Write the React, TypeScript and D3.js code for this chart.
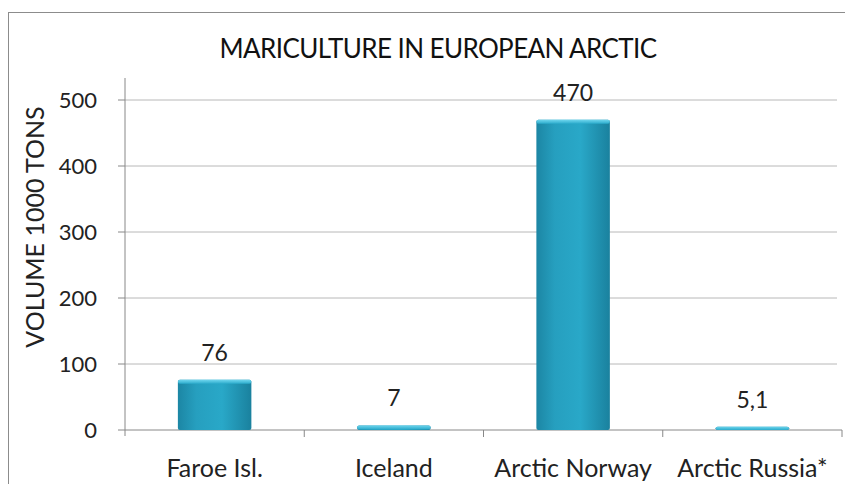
import React from "react";
import * as d3 from "d3";

const categories = ["Faroe Isl.", "Iceland", "Arctic Norway", "Arctic Russia*"];
const values = [76, 7, 470, 5.1];
const valueLabels = ["76", "7", "470", "5,1"];
const yTicks = [0, 100, 200, 300, 400, 500];

const W = 845, H = 484;
const left = 125, right = 842, top = 78, bottom = 430;
const font = "Lato, 'Open Sans', sans-serif";

export default function App() {
  const x = d3.scaleBand<string>().domain(categories).range([left, right]).paddingInner(0.59).paddingOuter(0.295);
  const y = d3.scaleLinear().domain([0, 500]).range([bottom, bottom - 330]);
  const bandStep = x.step();
  return (
    <svg width={W} height={H} style={{ position: "absolute", left: 0, top: 0 }}>
      <defs>
        <linearGradient id="barG" x1="0" x2="1" y1="0" y2="0">
          <stop offset="0" stopColor="#1c86a4" />
          <stop offset="0.25" stopColor="#269fbf" />
          <stop offset="0.6" stopColor="#29a8c8" />
          <stop offset="1" stopColor="#1a819e" />
        </linearGradient>
        <linearGradient id="topG" x1="0" x2="0" y1="0" y2="1">
          <stop offset="0" stopColor="#6fd6ee" />
          <stop offset="1" stopColor="#2aaacb" />
        </linearGradient>
      </defs>
      <rect x={0} y={0} width={W} height={H} fill="#fff" />
      <rect x={8.5} y={12.5} width={W + 20} height={H + 20} fill="#fff" stroke="#8c8c8c" strokeWidth={1} />
      <text x={438} y={58} textAnchor="middle" fontFamily={font} fontSize={26} fill="#111" letterSpacing={-0.6}>
        MARICULTURE IN EUROPEAN ARCTIC
      </text>
      {yTicks.map((t) => (
        <g key={t}>
          {t > 0 && <line x1={left} x2={right - 5} y1={y(t)} y2={y(t)} stroke="#b8b8b8" strokeWidth={1} />}
          <line x1={left - 7} x2={left} y1={y(t)} y2={y(t)} stroke="#888" />
          <text x={97} y={y(t) + 8} textAnchor="end" fontFamily={font} fontSize={22} fill="#222">{t}</text>
        </g>
      ))}
      <line x1={left} x2={left} y1={top} y2={bottom + 6} stroke="#888" />
      <line x1={left} x2={right} y1={bottom} y2={bottom} stroke="#888" />
      {categories.map((c, i) => (
        <line key={"t" + i} x1={left + bandStep * (i + 1)} x2={left + bandStep * (i + 1)} y1={bottom} y2={bottom + 7} stroke="#888" />
      ))}
      <text transform={`translate(44,227) rotate(-90)`} textAnchor="middle" fontFamily={font} fontSize={25} fill="#222">
        VOLUME  1000 TONS
      </text>
      {categories.map((c, i) => {
        const bx = x(c)!;
        const bw = x.bandwidth();
        const by = y(values[i]);
        const bh = bottom - by;
        return (
          <g key={c}>
            <rect x={bx} y={by} width={bw} height={bh} fill="url(#barG)" rx={2} />
            <rect x={bx} y={by} width={bw} height={Math.min(4, bh)} fill="url(#topG)" rx={2} />
            <text x={bx + bw / 2} y={by - 19} textAnchor="middle" fontFamily={font} fontSize={23} fill="#222">{valueLabels[i]}</text>
            <text x={bx + bw / 2} y={477} textAnchor="middle" fontFamily={font} fontSize={25} fill="#222">{c}</text>
          </g>
        );
      })}
    </svg>
  );
}
